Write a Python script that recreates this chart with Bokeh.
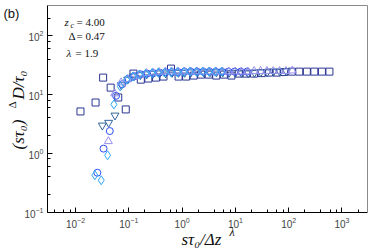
import math
from bokeh.plotting import figure
from bokeh.models import Label, Range1d, LogAxis, FixedTicker
from bokeh.embed import file_html
from bokeh.resources import INLINE

# ---- data ----
sq_x = [0.0124, 0.0238, 0.0330, 0.0457, 0.0634, 0.0877, 0.122, 0.168, 0.233, 0.323,
        0.448, 0.619, 0.859, 1.19, 1.65, 2.28, 3.16, 4.38, 6.07, 8.41, 11.6, 16.1,
        22.3, 31.0, 42.9, 59.4, 82.2, 114, 158, 219, 303, 420, 581]
sq_y = [5.15, 7.31, 19.4, 13.1, 8.9, 5.57, 22.7, 17.9, 18.7, 19.4, 20.2, 27.6, 20.2,
        20.2, 21.0, 21.8, 21.8, 21.0, 21.8, 21.0, 22.7, 22.7, 22.7, 23.1, 23.6, 23.6,
        24.1, 24.5, 24.5, 24.5, 24.5, 24.5, 24.5]

td_x = [0.0319, 0.0419, 0.0551, 0.0725, 0.0953, 0.125, 0.165, 0.217, 0.285, 0.375,
        0.493, 0.648, 0.852, 1.12, 1.47, 1.94, 2.55, 3.35, 4.41, 5.80, 7.62, 10.0,
        13.2, 17.4, 22.8, 30.0, 39.5, 51.9, 68.3, 89.8]
td_y = [2.98, 3.32, 4.41, 14.5, 18.0, 20.5, 21.5, 22.2, 22.7, 23.0, 23.0, 23.5, 23.5,
        23.5, 24.0, 24.0, 24.0, 24.0, 24.0, 24.0, 23.5, 23.5, 23.0, 23.0, 23.5, 24.0,
        24.0, 24.5, 24.5, 25.0]

ci_x = [0.0257, 0.0336, 0.0440, 0.0576, 0.0754, 0.0987, 0.129, 0.169, 0.221, 0.290,
        0.379, 0.496, 0.650, 0.850, 1.11, 1.46, 1.91, 2.50, 3.27, 4.28, 5.60, 7.33,
        9.60, 12.6, 16.5]
ci_y = [0.467, 1.20, 2.39, 9.5, 15.0, 18.5, 20.5, 22.0, 22.7, 23.1, 23.6, 24.0, 24.0,
        24.0, 24.5, 24.5, 24.5, 24.5, 24.5, 24.5, 24.5, 24.5, 24.5, 24.5, 24.5]

tu_x = [0.0414, 0.0544, 0.0716, 0.0942, 0.124, 0.163, 0.214, 0.282, 0.370, 0.487,
        0.640, 0.842, 1.11, 1.46, 1.92, 2.52, 3.31, 4.36, 5.73, 7.54, 9.91, 13.0,
        17.1, 22.5, 29.6, 39.0, 51.3, 67.4, 88.6, 117]
tu_y = [1.60, 10.4, 16.0, 18.2, 20.2, 21.8, 23.1, 23.6, 24.0, 24.5, 24.5, 24.5, 24.5,
        24.5, 24.5, 24.5, 24.5, 24.5, 24.5, 24.5, 24.5, 24.5, 24.5, 25.0, 25.0, 25.0,
        25.0, 25.0, 25.0, 25.5]

dm_x = [0.0231, 0.0304, 0.0400, 0.0526, 0.0692, 0.0909, 0.119, 0.157, 0.207, 0.272,
        0.357, 0.470, 0.618, 0.812, 1.07, 1.40, 1.85, 2.43, 3.19, 4.19, 5.52]
dm_y = [0.424, 0.348, 0.925, 6.78, 13.7, 17.9, 20.2, 21.8, 22.7, 23.1, 23.6, 23.6,
        24.0, 24.0, 24.0, 24.5, 24.5, 24.5, 24.5, 24.5, 24.5]

params = [("z", "c", "= 4.00"), ("Δ", "", "= 0.47"), ("λ", "", "= 1.9")]

# plot-box extents and full-canvas ranges
XLO, XHI = 10 ** -2.525, 10 ** 3.478
YLO, YHI = 0.1, 10 ** 2.514

p = figure(width=374, height=249, x_axis_type="log", y_axis_type="log",
           x_axis_location=None, y_axis_location=None,
           x_range=Range1d(10 ** -3.407, 10 ** 3.610),
           y_range=Range1d(10 ** -1.637, 10 ** 2.5995),
           output_backend="svg", toolbar_location=None, min_border=0)
p.xgrid.visible = False
p.ygrid.visible = False
p.outline_line_color = None
p.background_fill_color = "white"
p.border_fill_color = "white"

def style_axis(ax):
    ax.axis_line_color = "black"
    ax.axis_line_width = 1
    ax.major_tick_in = 5
    ax.major_tick_out = 0
    ax.minor_tick_in = 3
    ax.minor_tick_out = 0
    ax.major_tick_line_color = "black"
    ax.minor_tick_line_color = "black"
    ax.major_label_text_font = "Liberation Sans"
    ax.major_label_text_font_size = "10px"
    ax.major_label_text_color = "#444444"

xa = LogAxis(fixed_location=YLO, bounds=(XLO, XHI), major_label_standoff=5)
style_axis(xa)
p.add_layout(xa, "below")
ya = LogAxis(fixed_location=XLO, bounds=(YLO, YHI), major_label_standoff=4)
style_axis(ya)
p.add_layout(ya, "left")

for side, loc, bnds in (("above", YHI, (XLO, XHI)), ("right", XHI, (YLO, YHI))):
    box = LogAxis(fixed_location=loc, bounds=bnds,
                  ticker=FixedTicker(ticks=[], minor_ticks=[]),
                  axis_line_color="#8a8a8a", axis_line_width=1,
                  major_tick_in=0, major_tick_out=0,
                  minor_tick_in=0, minor_tick_out=0)
    p.add_layout(box, side)

kw = dict(fill_color=None, line_width=1.0)
p.scatter(sq_x, sq_y, marker="square", size=7, line_color="#2a3593", **kw)
p.scatter(td_x, td_y, marker="inverted_triangle", size=8, line_color="#30679b", **kw)
p.scatter(ci_x, ci_y, marker="circle", size=7, line_color="#2f4ff0", **kw)
p.scatter(tu_x, tu_y, marker="triangle", size=8, line_color="#9890ee", **kw)
p.scatter(dm_x, dm_y, marker="diamond", size=9, line_color="#2ea8f5", **kw)

def lab(x, y, text, size, style="normal", font="Liberation Serif", angle=0,
        align="left", baseline="middle", color="#111111"):
    p.add_layout(Label(x=x, y=y, x_units="screen", y_units="screen", text=text,
                       text_font=font, text_font_size=size, text_font_style=style,
                       angle=angle, text_align=align, text_baseline=baseline,
                       text_color=color))

# panel tag
lab(3, 244, "(b)", "13px", font="Liberation Sans", baseline="top")

# parameter annotations
rows = [(64, 227.3, 76), (68, 213.3, 76), (66, 196.7, 75)]
for (sym, sub, val), (sx, sy, vx) in zip(params, rows):
    lab(sx, sy, sym, "11px", style="italic" if sym != "Δ" else "normal")
    if sub:
        lab(sx + 6, sy - 3, sub, "8px", style="italic")
    lab(vx, sy, val, "11px")

# x axis label: s tau_0 / Delta z ^ lambda
lab(181, 10, "sτ₀/Δz", "17px", style="italic", baseline="alphabetic")
lab(229, 17.5, "λ", "12px", style="italic", baseline="alphabetic")

# y axis label (rotated): (s tau_0)^Delta D / tau_0
rot = math.pi / 2
lab(18, 100, "(sτ₀)", "17px", style="italic", angle=rot, baseline="alphabetic")
lab(11, 141, "Δ", "11px", angle=rot, baseline="alphabetic")
lab(18, 150, "D/τ₀", "17px", style="italic", angle=rot, baseline="alphabetic")

open("out.html", "w").write(file_html(p, INLINE))
